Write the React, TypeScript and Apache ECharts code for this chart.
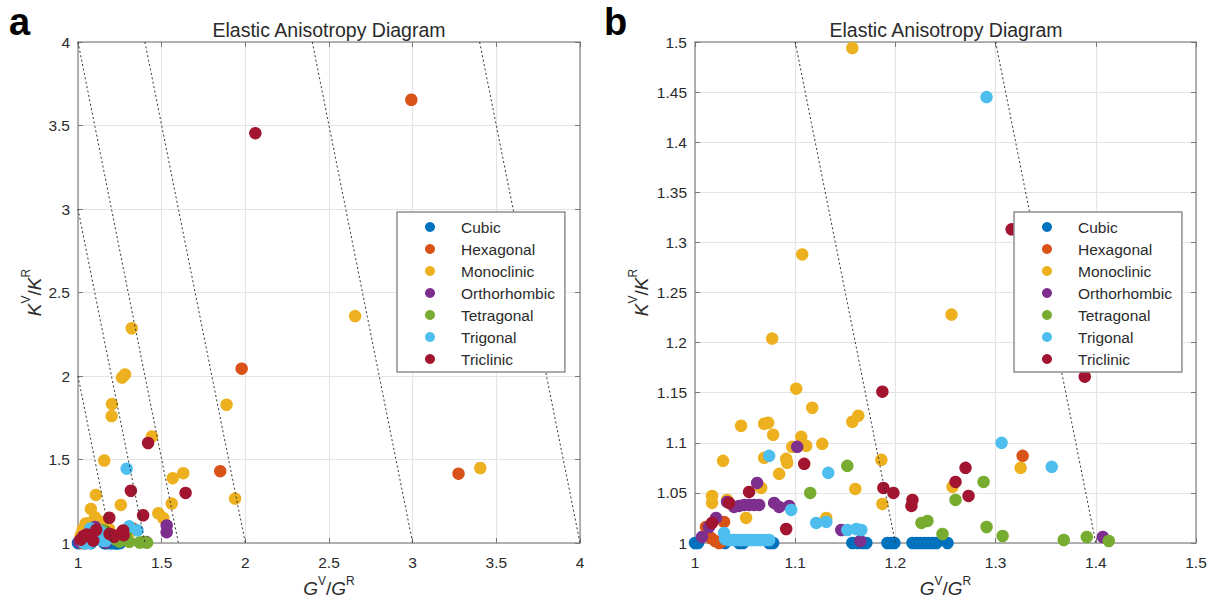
import React, { useEffect, useRef } from "react";
import * as echarts from "echarts";

// ---------------- data ----------------
const classes = ["Cubic", "Hexagonal", "Monoclinic", "Orthorhombic", "Tetragonal", "Trigonal", "Triclinic"];
const classColors = ["#0072BD", "#D95319", "#EDB120", "#7E2F8E", "#77AC30", "#4DBEEE", "#A2142F"];

// [G^V/G^R, K^V/K^R]
const cubic = [
  [1.0, 1.0], [1.003, 1.0], [1.03, 1.0], [1.044, 1.0], [1.048, 1.0], [1.074, 1.0], [1.078, 1.0],
  [1.157, 1.0], [1.162, 1.0], [1.167, 1.0], [1.171, 1.0], [1.192, 1.0], [1.196, 1.0], [1.199, 1.0],
  [1.217, 1.0], [1.221, 1.0], [1.225, 1.0], [1.229, 1.0], [1.233, 1.0], [1.237, 1.0], [1.241, 1.0], [1.252, 1.0],
];
const hexagonal = [
  [1.011, 1.016], [1.016, 1.005], [1.02, 1.002], [1.024, 1.0], [1.029, 1.021], [1.026, 1.001],
  [1.327, 1.087], [1.85, 1.43], [1.978, 2.044], [2.992, 3.654], [3.274, 1.415],
];
const monoclinic = [
  [1.017, 1.047], [1.017, 1.04], [1.028, 1.082], [1.032, 1.043], [1.046, 1.117], [1.051, 1.025],
  [1.066, 1.055], [1.069, 1.119], [1.073, 1.12], [1.069, 1.085], [1.077, 1.204], [1.078, 1.108],
  [1.084, 1.069], [1.091, 1.084], [1.092, 1.08], [1.097, 1.096], [1.101, 1.154], [1.106, 1.106],
  [1.107, 1.288], [1.111, 1.097], [1.117, 1.135], [1.127, 1.099], [1.131, 1.025], [1.157, 1.121],
  [1.157, 1.494], [1.16, 1.054], [1.163, 1.127], [1.186, 1.083], [1.187, 1.039], [1.256, 1.228],
  [1.257, 1.056], [1.325, 1.075], [1.48, 1.178], [1.51, 1.149], [1.201, 1.76], [1.203, 1.832],
  [1.263, 1.991], [1.281, 2.009], [1.321, 2.286], [1.442, 1.638], [1.566, 1.388], [1.629, 1.418],
  [1.56, 1.236], [1.888, 1.828], [1.939, 1.266], [2.656, 2.359], [3.404, 1.449],
];
const orthorhombic = [
  [1.007, 1.006], [1.014, 1.016], [1.021, 1.025], [1.032, 1.041], [1.039, 1.036], [1.044, 1.037],
  [1.049, 1.038], [1.054, 1.038], [1.059, 1.038], [1.062, 1.06], [1.064, 1.038], [1.079, 1.04],
  [1.084, 1.036], [1.094, 1.037], [1.102, 1.096], [1.146, 1.013], [1.165, 1.002], [1.407, 1.006],
  [1.53, 1.105], [1.53, 1.065],
];
const tetragonal = [
  [1.115, 1.05], [1.152, 1.077], [1.226, 1.02], [1.232, 1.022], [1.247, 1.009], [1.26, 1.043],
  [1.288, 1.061], [1.291, 1.016], [1.307, 1.007], [1.368, 1.003], [1.391, 1.006], [1.413, 1.002],
];
const trigonal = [
  [1.029, 1.01], [1.03, 1.004], [1.034, 1.003], [1.038, 1.003], [1.042, 1.003], [1.046, 1.003],
  [1.05, 1.003], [1.054, 1.003], [1.058, 1.003], [1.062, 1.003], [1.066, 1.003], [1.07, 1.003],
  [1.074, 1.003], [1.074, 1.087], [1.096, 1.033], [1.121, 1.02], [1.131, 1.021], [1.133, 1.07],
  [1.152, 1.013], [1.161, 1.014], [1.166, 1.013], [1.291, 1.445], [1.306, 1.1], [1.356, 1.076],
];
const triclinic = [
  [1.017, 1.02], [1.034, 1.04], [1.054, 1.051], [1.091, 1.014], [1.109, 1.079], [1.187, 1.151],
  [1.188, 1.055], [1.198, 1.05], [1.216, 1.037], [1.217, 1.043], [1.26, 1.061], [1.27, 1.075],
  [1.273, 1.047], [1.316, 1.313], [1.389, 1.166], [1.419, 1.599], [1.643, 1.3], [2.06, 3.454],
];
const classData = [cubic, hexagonal, monoclinic, orthorhombic, tetragonal, trigonal, triclinic];

// universal anisotropy iso-lines (end points)
const isoLinesA = [
  [[1, 2], [1.2, 1]],
  [[1, 3], [1.4, 1]],
  [[1, 4], [1.6, 1]],
  [[1.4, 4], [2, 1]],
  [[2.4, 4], [3, 1]],
  [[3.4, 4], [4, 1]],
];
const isoLinesB = [
  [[1.1, 1.5], [1.2, 1]],
  [[1.3, 1.5], [1.4, 1]],
];

const panelTitle = "Elastic Anisotropy Diagram";
const rangeA = { min: 1, max: 4, xInterval: 0.5, yInterval: 0.5 };
const rangeB = { min: 1, max: 1.5, xInterval: 0.1, yInterval: 0.05 };

// ---------------- styles ----------------
const FONT = '"Liberation Sans", Arial, Helvetica, sans-serif';
const TXT = "#2b2b2b";
const frame = { color: "#9a9a9a", width: 1.5 };
const tickStyle = { color: "#777", width: 1 };
const fmt = (v: number) => String(Math.round(v * 1000) / 1000);

const nameStyle = {
  rich: {
    i: { fontFamily: FONT, fontStyle: "italic", fontSize: 19, color: TXT, lineHeight: 28, verticalAlign: "middle" },
    n: { fontFamily: FONT, fontSize: 19, color: TXT, lineHeight: 28, verticalAlign: "middle" },
    s: { fontFamily: FONT, fontSize: 12, color: TXT, lineHeight: 28, verticalAlign: "top" },
  },
};

function axes(grid: number, r: any, isX: boolean, name: string, nameGap: number) {
  const interval = isX ? r.xInterval : r.yInterval;
  const main = {
    type: "value",
    gridIndex: grid,
    min: r.min,
    max: r.max,
    interval,
    position: isX ? "bottom" : "left",
    axisLine: { show: true, onZero: false, lineStyle: frame },
    axisTick: { show: true, inside: true, length: 5, lineStyle: tickStyle },
    axisLabel: { fontFamily: FONT, fontSize: 15.5, color: TXT, margin: isX ? 11 : 8, formatter: fmt },
    splitLine: { show: true, lineStyle: { color: "#e4e4e4", width: 1.2 } },
    name,
    nameLocation: "middle",
    nameGap,
    nameTextStyle: nameStyle,
  };
  const opp = {
    type: "value",
    gridIndex: grid,
    min: r.min,
    max: r.max,
    interval,
    position: isX ? "top" : "right",
    axisLine: { show: true, onZero: false, lineStyle: frame },
    axisTick: { show: true, inside: true, length: 5, lineStyle: tickStyle },
    axisLabel: { show: false },
    splitLine: { show: false },
  };
  return [main, opp];
}

function legendAt(left: number) {
  return {
    data: classes,
    orient: "vertical",
    left,
    top: 212,
    padding: [7, 10, 5, 28],
    itemGap: 6,
    itemWidth: 10,
    itemHeight: 10,
    icon: "circle",
    selectedMode: false,
    backgroundColor: "#ffffff",
    borderColor: "#8f8f8f",
    borderWidth: 1.5,
    textStyle: { fontFamily: FONT, fontSize: 15.5, color: TXT, lineHeight: 16, padding: [0, 0, 0, 21] },
  };
}

export default function App() {
  const ref = useRef<HTMLDivElement>(null);
  useEffect(() => {
    if (!ref.current) return;
    const chart = echarts.init(ref.current, undefined, { renderer: "svg" });

    const xName = "{i|G}{s|V}{n|/}{i|G}{s|R}";
    const yName = "{i|K}{s|V}{n|/}{i|K}{s|R}";

    const [xa, xa2] = axes(0, rangeA, true, xName, 31);
    const [xb, xb2] = axes(1, rangeB, true, xName, 31);
    const [ya, ya2] = axes(0, rangeA, false, yName, 30);
    const [yb, yb2] = axes(1, rangeB, false, yName, 40);

    const series: any[] = [];
    // panel a
    classes.forEach((c, i) => {
      series.push({
        type: "scatter", name: c, xAxisIndex: 0, yAxisIndex: 0,
        data: classData[i], symbol: "circle", symbolSize: 12.5, clip: false,
        itemStyle: { color: classColors[i], opacity: 1 }, z: 2,
      });
    });
    // panel b (zoomed region)
    classes.forEach((c, i) => {
      series.push({
        type: "scatter", name: c, xAxisIndex: 2, yAxisIndex: 2,
        data: classData[i].filter((p) => p[0] <= rangeB.max && p[1] <= rangeB.max),
        symbol: "circle", symbolSize: 12.5, clip: false,
        itemStyle: { color: classColors[i], opacity: 1 }, z: 2,
      });
    });
    const isoStyle = { color: "#333333", width: 1, type: [2, 2.5] };
    isoLinesA.forEach((l) => series.push({
      type: "line", xAxisIndex: 0, yAxisIndex: 0, data: l, symbol: "none", silent: true,
      lineStyle: isoStyle, z: 3,
    }));
    isoLinesB.forEach((l) => series.push({
      type: "line", xAxisIndex: 2, yAxisIndex: 2, data: l, symbol: "none", silent: true,
      lineStyle: isoStyle, z: 3,
    }));

    chart.setOption({
      animation: false,
      backgroundColor: "#ffffff",
      grid: [
        { left: 78, top: 42, width: 502, height: 501 },
        { left: 695, top: 42, width: 501, height: 501 },
      ],
      xAxis: [xa, xa2, xb, xb2],
      yAxis: [ya, ya2, yb, yb2],
      legend: [legendAt(397), legendAt(1014)],
      graphic: [
        { type: "text", x: 329, y: 30, style: { text: panelTitle, fontFamily: FONT, fontSize: 19.5, fill: TXT, align: "center", verticalAlign: "middle" } },
        { type: "text", x: 946, y: 30, style: { text: panelTitle, fontFamily: FONT, fontSize: 19.5, fill: TXT, align: "center", verticalAlign: "middle" } },
        { type: "text", x: 9, y: 22, style: { text: "a", fontFamily: FONT, fontSize: 38, fontWeight: "bold", fill: "#000", align: "left", verticalAlign: "middle" } },
        { type: "text", x: 604, y: 22, style: { text: "b", fontFamily: FONT, fontSize: 38, fontWeight: "bold", fill: "#000", align: "left", verticalAlign: "middle" } },
      ],
      series,
    });
    return () => chart.dispose();
  }, []);
  return <div ref={ref} style={{ position: "absolute", left: 0, top: 0, width: 1215, height: 605 }} />;
}
